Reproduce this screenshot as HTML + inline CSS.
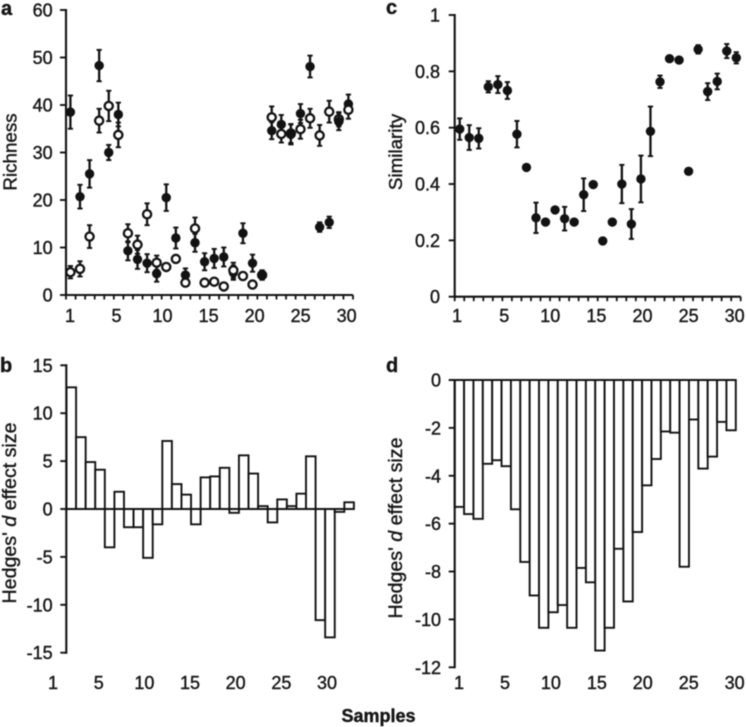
<!DOCTYPE html>
<html lang="en">
<head>
<meta charset="utf-8">
<title>Richness, similarity and effect size by sample</title>
<style>
  html, body { margin: 0; padding: 0; background: #fff; }
  #figure { display: block; width: 746px; height: 727px; filter: blur(0.5px); }
  text { font-family: "Liberation Sans", sans-serif; fill: #161616; stroke: #161616; stroke-width: 0.4px; }
</style>
</head>
<body>
<svg id="figure" xmlns="http://www.w3.org/2000/svg" width="746" height="727" viewBox="0 0 746 727">
  <rect width="746" height="727" fill="#fff"></rect>
  <text x="1" y="15" font-size="20" font-weight="bold">a</text>
  <text x="386" y="14" font-size="20" font-weight="bold">c</text>
  <text x="0" y="372" font-size="20" font-weight="bold">b</text>
  <text x="386" y="372" font-size="20" font-weight="bold">d</text>
  <text transform="translate(16.5 152) rotate(-90)" text-anchor="middle" font-size="18.8">Richness</text>
  <text transform="translate(402 152) rotate(-90)" text-anchor="middle" font-size="18.8">Similarity</text>
  <text transform="translate(16 513) rotate(-90)" text-anchor="middle" font-size="19.6">Hedges' <tspan font-style="italic">d</tspan> effect size</text>
  <text transform="translate(402 528) rotate(-90)" text-anchor="middle" font-size="19.6">Hedges' <tspan font-style="italic">d</tspan> effect size</text>
  <text x="378.5" y="722" text-anchor="middle" font-size="18" font-weight="bold">Samples</text>
  <g id="plot-a"></g>
  <g id="plot-b"></g>
  <g id="plot-c"></g>
  <g id="plot-d"></g>
</svg>
<script>
const sampleTicks = [0, 5, 10, 15, 20, 25, 30];
const sampleTickLabels = ['1', '5', '10', '15', '20', '25', '30'];

const richnessTicks = [0, 10, 20, 30, 40, 50, 60];
const richnessFilled = [38.5, 20.7, 25.5, 48.3, 30, 38, 9.3, 7.5, 6.7, 4.5, 20.5, 12, 4.2, 11, 7, 7.7, 8, 4.7, 13, 6.7, 4.2, 34.6, 35.9, 33.8, 38.2, 48.1, 14.3, 15.3, 36.5, 40.2];
const richnessFilledErr = [3.5, 2.5, 2.9, 3.3, 1.6, 2.5, 2, 2, 1.9, 1.7, 2.8, 2.2, 1.4, 1.9, 1.8, 2, 2, 1.5, 2.1, 1.8, 1, 1.8, 2, 2.1, 2, 2.3, 1, 1.2, 1.8, 2];
const richnessOpen = [4.8, 5.5, 12.3, 36.7, 39.8, 33.7, 13, 10.6, 17, 6.8, 5.9, 7.6, 2.6, 14, 2.6, 2.8, 1.8, 5.2, 4, 2.2, 4.2, 37.4, 33.9, 34, 34.9, 37.2, 33.6, 38.6, 37, 39];
const richnessOpenErr = [1.3, 1.6, 2.4, 2.5, 3.2, 2.6, 1.9, 1.9, 2.3, 1.5, 0, 0, 0, 2.3, 0, 0, 0, 1.6, 0, 0, 0, 2.3, 1.8, 2, 2, 2, 2.2, 2.3, 1.5, 1.9];
const filledOnTopSamples = [21, 24, 29];

const similarityTicks = [0, 0.2, 0.4, 0.6, 0.8, 1];
const similarityTickLabels = ['0', '0.2', '0.4', '0.6', '0.8', '1'];
const similarity = [0.595, 0.565, 0.562, 0.745, 0.753, 0.732, 0.577, 0.459, 0.28, 0.265, 0.308, 0.277, 0.265, 0.362, 0.398, 0.198, 0.265, 0.4, 0.258, 0.418, 0.587, 0.763, 0.845, 0.84, 0.445, 0.878, 0.728, 0.764, 0.872, 0.848];
const similarityErr = [0.038, 0.044, 0.036, 0.02, 0.03, 0.03, 0.047, 0, 0.054, 0, 0, 0.042, 0, 0.058, 0, 0, 0, 0.068, 0.053, 0.083, 0.088, 0.022, 0, 0, 0, 0.015, 0.03, 0.028, 0.025, 0.02];

const effectBTicks = [-15, -10, -5, 0, 5, 10, 15];
const effectB = [12.7, 7.5, 4.9, 4.1, -4, 1.8, -1.9, -1.9, -5.1, -1.6, 7.1, 2.6, 1.5, -1.6, 3.3, 3.4, 4.3, -0.4, 5.6, 3.7, 0.3, -1.4, 1, 0.3, 1.6, 5.5, -11.6, -13.4, -0.3, 0.7];

const effectDTicks = [-12, -10, -8, -6, -4, -2, 0];
const effectD = [-5.3, -5.6, -5.8, -3.5, -3.35, -3.6, -5.4, -7.6, -9, -10.35, -9.7, -9.4, -10.35, -7.85, -8.45, -11.3, -10.35, -7.05, -9.25, -6.35, -4.4, -3.3, -2.15, -2.2, -7.8, -1.65, -3.7, -3.2, -1.75, -2.1];

const SVG_NS = 'http://www.w3.org/2000/svg';
const INK = '#121212';

function linear(d0, d1, r0, r1) {
  return function (v) { return r0 + (v - d0) * (r1 - r0) / (d1 - d0); };
}

function line(parent, name, x1, y1, x2, y2, width) {
  const el = document.createElementNS(SVG_NS, 'line');
  
  
  el.setAttribute('x1', x1);
  el.setAttribute('y1', y1);
  el.setAttribute('x2', x2);
  el.setAttribute('y2', y2);
  el.setAttribute('stroke', INK);
  el.setAttribute('stroke-width', width);
  parent.appendChild(el);
  return el;
}

function label(parent, name, x, y, anchor, content) {
  const el = document.createElementNS(SVG_NS, 'text');
  
  
  el.setAttribute('x', x);
  el.setAttribute('y', y);
  el.setAttribute('text-anchor', anchor);
  el.setAttribute('font-size', '18');
  el.textContent = content;
  parent.appendChild(el);
}

function yAxis(parent, x, y, ticks, labels, top, bottom, labelRight) {
  line(parent, 'y-axis-line', x, top - 1, x, bottom + 1, 2.1);
  ticks.forEach(function (t, i) {
    line(parent, 'y-axis-tick', x - 6, y(t), x, y(t), 1.9);
    label(parent, 'y-tick-label', labelRight, y(t) + 6.5, 'end', labels[i]);
  });
}

function xLabels(parent, position, baseline) {
  sampleTicks.forEach(function (t, i) {
    label(parent, 'x-tick-label', position(t), baseline, 'middle', sampleTickLabels[i]);
  });
}

function errorBar(parent, x, yTop, yBottom) {
  line(parent, 'error-bar', x, yTop, x, yBottom, 2.3);
  line(parent, 'error-cap', x - 2.6, yTop, x + 2.6, yTop, 1.9);
  line(parent, 'error-cap', x - 2.6, yBottom, x + 2.6, yBottom, 1.9);
}

function point(parent, name, x, y, open) {
  const el = document.createElementNS(SVG_NS, 'circle');
  
  
  el.setAttribute('cx', x);
  el.setAttribute('cy', y);
  el.setAttribute('r', open ? 4.1 : 4.7);
  el.setAttribute('fill', open ? '#fff' : INK);
  if (open) {
    el.setAttribute('stroke', INK);
    el.setAttribute('stroke-width', 2.3);
  }
  parent.appendChild(el);
}

function bars(parent, values, x0, step, y) {
  values.forEach(function (v, i) {
    const el = document.createElementNS(SVG_NS, 'rect');
    
    
    el.setAttribute('x', x0 + i * step);
    el.setAttribute('y', Math.min(y(v), y(0)));
    el.setAttribute('width', step);
    el.setAttribute('height', Math.abs(y(v) - y(0)));
    el.setAttribute('fill', '#fff');
    el.setAttribute('stroke', INK);
    el.setAttribute('stroke-width', 1.9);
    parent.appendChild(el);
  });
}

function drawScatterTicks(parent, x0, x1, y) {
  line(parent, 'x-axis-line', x0, y, x1, y, 2.1);
  for (let i = 0; i <= 30; i++) {
    const tx = x0 + (x1 - x0) * i / 30;
    line(parent, 'x-axis-tick', tx, y, tx, y + 4.5, 1.8);
  }
}

/* Panel a */
(function () {
  const g = document.getElementById('plot-a');
  const x = linear(1, 30, 70.4, 348.4);
  const y = linear(0, 60, 295, 10);
  yAxis(g, 66, y, richnessTicks, richnessTicks.map(String), 10, 295, 52.7);
  drawScatterTicks(g, 66, 353, 295);
  xLabels(g, function (t) { return t === 0 ? 70 : linear(5, 30, 116.5, 346.7)(t); }, 322);

  function drawFilled(v, i) {
    errorBar(g, x(i + 1), y(v + richnessFilledErr[i]), y(v - richnessFilledErr[i]));
    point(g, 'richness-filled-point', x(i + 1), y(v), false);
  }
  function drawOpen(v, i) {
    if (richnessOpenErr[i] > 0) {
      errorBar(g, x(i + 1), y(v + richnessOpenErr[i]), y(v - richnessOpenErr[i]));
    }
    point(g, 'richness-open-point', x(i + 1), y(v), true);
  }
  richnessFilled.forEach(function (v, i) {
    if (!filledOnTopSamples.includes(i + 1)) drawFilled(v, i);
  });
  richnessOpen.forEach(drawOpen);
  richnessFilled.forEach(function (v, i) {
    if (filledOnTopSamples.includes(i + 1)) drawFilled(v, i);
  });
})();

/* Panel c */
(function () {
  const g = document.getElementById('plot-c');
  const x = linear(1, 30, 459.7, 736.3);
  const y = linear(0, 1, 296.7, 15);
  yAxis(g, 454.7, y, similarityTicks, similarityTickLabels, 15, 296.7, 440);
  drawScatterTicks(g, 454.7, 740.7, 296.7);
  xLabels(g, function (t) { return t === 0 ? 457 : linear(5, 30, 504.2, 734.7)(t); }, 322);
  similarity.forEach(function (v, i) {
    if (similarityErr[i] > 0) {
      errorBar(g, x(i + 1), y(v + similarityErr[i]), y(v - similarityErr[i]));
    }
    point(g, 'similarity-point', x(i + 1), y(v), false);
  });
})();

/* Panel b */
(function () {
  const g = document.getElementById('plot-b');
  const y = linear(-15, 15, 652.7, 365.3);
  bars(g, effectB, 66.5, 9.58, y);
  yAxis(g, 66.3, y, effectBTicks, effectBTicks.map(String), 365.3, 652.7, 52.7);
  line(g, 'zero-line', 66.3, y(0), 354, y(0), 2);
  xLabels(g, function (t) { return t === 0 ? 53 : linear(5, 30, 98.7, 327)(t); }, 689);
})();

/* Panel d */
(function () {
  const g = document.getElementById('plot-d');
  const y = linear(-12, 0, 667.3, 380);
  bars(g, effectD, 454.7, 9.37, y);
  yAxis(g, 454.7, y, effectDTicks, effectDTicks.map(String), 380, 667.3, 441);
  line(g, 'zero-line', 449, y(0), 736.5, y(0), 2.1);
  xLabels(g, function (t) { return t === 0 ? 459 : linear(5, 30, 505, 734.7)(t); }, 689);
})();
</script>
</body>
</html>
